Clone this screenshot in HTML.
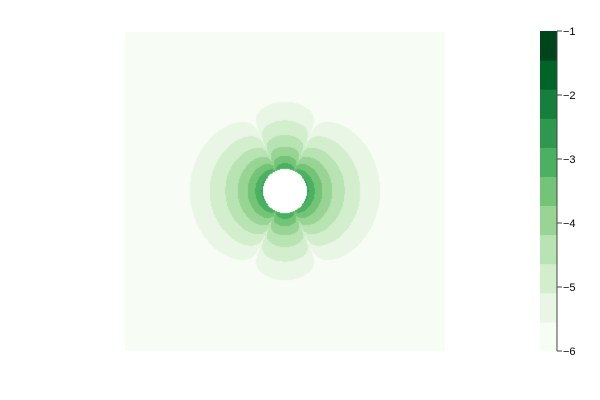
<!DOCTYPE html>
<html><head><meta charset="utf-8">
<style>
body{margin:0;background:#fff;}
#wrap{position:relative;width:600px;height:400px;overflow:hidden;font-family:"Liberation Sans",sans-serif;}
canvas{position:absolute;left:125px;top:32px;}
#cb{position:absolute;left:0;top:0;}
</style></head>
<body>
<div id="wrap">
<canvas id="plot" width="320" height="319"></canvas>
<svg id="cb" width="600" height="400"></svg>
</div>
<script>
const levelMin = -6, levelMax = -1, nBands = 11;
const bandColors = ["#f7fcf5","#e9f6e5","#d3eecd","#b8e3b2","#98d594","#73c476","#4bb062","#2f974e","#157f3b","#006428","#00441b"];
const tickValues = [1,2,3,4,5,6];
const tickLabels = ["\u22121","\u22122","\u22123","\u22124","\u22125","\u22126"];
// field parameters
const expo = 4.5, uZero = 0.165, topFactor2 = 2.22, eFloor2 = 0.00005, pw = 0.35, holeR = 22;
const logA = -5.545 - pw*Math.log10(1-uZero) + expo*Math.log10(95);

const cv = document.getElementById('plot');
const ctx = cv.getContext('2d');
const img = ctx.createImageData(cv.width, cv.height);
const cx = 160, cy = 159;
function hex(c){return [parseInt(c.substr(1,2),16),parseInt(c.substr(3,2),16),parseInt(c.substr(5,2),16)];}
const rgb = bandColors.map(hex);
for(let y=0;y<cv.height;y++){for(let x=0;x<cv.width;x++){
  const dx=x+0.5-cx, dy=y+0.5-cy, r=Math.hypot(dx,dy);
  let col;
  if(r<holeR){col=[255,255,255];}
  else{
    const u=(dx*dx)/(r*r);
    let s=u-uZero;
    if(s<0) s=-s*topFactor2;
    const g=Math.pow(s+eFloor2,pw);
    const v=logA+Math.log10(g)-expo*Math.log10(r);
    let b=Math.floor((v-levelMin)/(levelMax-levelMin)*nBands);
    b=Math.max(0,Math.min(nBands-1,b));
    col=rgb[b];
  }
  const i=(y*cv.width+x)*4;
  img.data[i]=col[0];img.data[i+1]=col[1];img.data[i+2]=col[2];img.data[i+3]=255;
}}
ctx.putImageData(img,0,0);

const svg=document.getElementById('cb');
const NS='http://www.w3.org/2000/svg';
const cbTop=31, cbBot=351, cbX=540, cbW=17;
function yOf(v){return cbTop+(v-1)/(6-1)*(cbBot-cbTop);}
for(let k=0;k<nBands;k++){
  const r=document.createElementNS(NS,'rect');
  const y1=cbBot-(k+1)*(cbBot-cbTop)/nBands, y0=cbBot-k*(cbBot-cbTop)/nBands;
  r.setAttribute('x',cbX);r.setAttribute('y',y1);r.setAttribute('width',cbW);r.setAttribute('height',y0-y1+0.5);
  r.setAttribute('fill',bandColors[k]);
  
  
  svg.appendChild(r);
}
const ax=document.createElementNS(NS,'line');
ax.setAttribute('x1',cbX+cbW);ax.setAttribute('x2',cbX+cbW);ax.setAttribute('y1',cbTop);ax.setAttribute('y2',cbBot);
ax.setAttribute('stroke','#444');ax.setAttribute('stroke-width','1');


svg.appendChild(ax);
tickValues.forEach((v,i)=>{
  const y=yOf(v);
  const t=document.createElementNS(NS,'line');
  t.setAttribute('x1',cbX+cbW);t.setAttribute('x2',cbX+cbW+5);t.setAttribute('y1',y);t.setAttribute('y2',y);
  t.setAttribute('stroke','#444');
  
  
  svg.appendChild(t);
  const tx=document.createElementNS(NS,'text');
  tx.setAttribute('x',cbX+cbW+6);tx.setAttribute('y',y+4);
  tx.setAttribute('font-size','11');tx.setAttribute('fill','#000');
  tx.setAttribute('font-family','Liberation Sans, sans-serif');
  tx.textContent=tickLabels[i];
  
  
  svg.appendChild(tx);
});
</script>
</body></html>
